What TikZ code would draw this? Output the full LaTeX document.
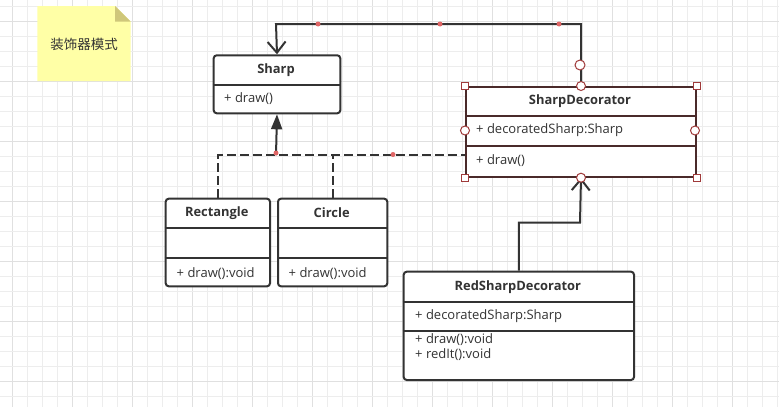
\documentclass[tikz,border=0pt]{standalone}
\usepackage{fontspec}
\setmainfont{Open Sans}
\newfontfamily\cjk{Noto Sans CJK SC}
\usetikzlibrary{arrows.meta}
\definecolor{ln}{HTML}{333333}
\definecolor{gridminor}{HTML}{EDEDED}
\definecolor{gridmajor}{HTML}{E0E0E0}
\definecolor{selbox}{HTML}{4A2A2A}
\definecolor{handle}{HTML}{A03A3A}
\definecolor{reddot}{HTML}{E06666}
\definecolor{notefill}{HTML}{FFFFA6}
\definecolor{notefold}{HTML}{CFC77A}
\tikzset{
  cls/.style={draw=ln, line width=2pt, rounded corners=3pt, fill=white, anchor=north west, inner sep=0pt},
  selcls/.style={draw=selbox, line width=2pt, fill=white, anchor=north west, inner sep=0pt},
  divider/.style={draw=ln, line width=2pt},
  seldivider/.style={draw=selbox, line width=2pt},
  titletxt/.style={font=\fontsize{12.9}{15}\selectfont\bfseries, text=ln, inner sep=0pt},
  memtxt/.style={font=\fontsize{13}{15}\selectfont, text=ln, inner sep=0pt, anchor=west, align=left},
  conn/.style={draw=ln, line width=2pt},
  dashconn/.style={draw=ln, line width=2pt, dash pattern=on 9pt off 4pt},
  vtip/.style={-{Straight Barb[length=11pt, width=18pt, line width=2pt]}},
  ttip/.style={-{Triangle[length=15pt, width=11pt]}},
  hcirc/.style={circle, draw=handle, line width=1pt, fill=white, minimum size=9pt, inner sep=0pt},
  hsq/.style={rectangle, draw=handle, line width=1pt, fill=white, minimum size=7pt, inner sep=0pt},
  rdot/.style={circle, fill=reddot, minimum size=5pt, inner sep=0pt},
}
\begin{document}
\begin{tikzpicture}[x=1pt, y=-1pt]
\useasboundingbox (0,0) rectangle (779,407);
\fill[white] (0,0) rectangle (779,407);
% grid
\foreach \k in {0,...,51} {
  \pgfmathtruncatemacro{\m}{mod(\k,4)}
  \ifnum\m=0
    \draw[gridmajor, line width=1pt] ({12.5+15*\k},0) -- ({12.5+15*\k},407);
  \else
    \draw[gridminor, line width=1pt] ({12.5+15*\k},0) -- ({12.5+15*\k},407);
  \fi
}
\foreach \k in {0,...,27} {
  \pgfmathtruncatemacro{\m}{mod(\k,4)}
  \ifnum\m=1
    \draw[gridmajor, line width=1pt] (0,{6+15*\k}) -- (779,{6+15*\k});
  \else
    \draw[gridminor, line width=1pt] (0,{6+15*\k}) -- (779,{6+15*\k});
  \fi
}
% note
\fill[notefill] (37.3,6) -- (115,6) -- (130.7,21.7) -- (130.7,81) -- (37.3,81) -- cycle;
\fill[notefold] (115,6) -- (130.7,21.7) -- (115,21.7) -- cycle;
\node[font=\cjk\fontsize{13.5}{15}\selectfont, text=ln, inner sep=0pt] (notetxt) at (84.2,44) {装饰器模式};

% Sharp
\node[cls, minimum width=126.6pt, minimum height=58pt] (sharp) at (212.7,54.3) {};
\node[titletxt] (sharpT) at (276,70) {Sharp};
\draw[divider] (sharp.west |- 0,85) -- (sharp.east |- 0,85);
\node[memtxt] (sharpM) at (224,99) {+ draw()};

% SharpDecorator
\node[selcls, minimum width=230pt, minimum height=89.7pt] (sd) at (465,86) {};
\node[titletxt] (sdT) at (580,101) {SharpDecorator};
\draw[seldivider] (sd.west |- 0,116) -- (sd.east |- 0,116);
\draw[seldivider] (sd.west |- 0,146) -- (sd.east |- 0,146);
\node[memtxt] (sdA) at (476,130.5) {+ decoratedSharp:Sharp};
\node[memtxt] (sdM) at (476,161) {+ draw()};

% Rectangle
\node[cls, minimum width=104.3pt, minimum height=87.6pt] (rect) at (164.7,197.7) {};
\node[titletxt] (rectT) at (216.8,213) {Rectangle};
\draw[divider] (rect.west |- 0,228.3) -- (rect.east |- 0,228.3);
\draw[divider] (rect.west |- 0,257.7) -- (rect.east |- 0,257.7);
\node[memtxt] (rectM) at (176.5,273.5) {+ draw():void};

% Circle
\node[cls, minimum width=109.3pt, minimum height=87.6pt] (circ) at (277,197.7) {};
\node[titletxt] (circT) at (331.7,213) {Circle};
\draw[divider] (circ.west |- 0,228.3) -- (circ.east |- 0,228.3);
\draw[divider] (circ.west |- 0,257.7) -- (circ.east |- 0,257.7);
\node[memtxt] (circM) at (288.5,273.5) {+ draw():void};

% RedSharpDecorator
\node[cls, minimum width=230.3pt, minimum height=108.3pt] (rsd) at (402.7,270.7) {};
\node[titletxt] (rsdT) at (517.85,287) {RedSharpDecorator};
\draw[divider] (rsd.west |- 0,301.7) -- (rsd.east |- 0,301.7);
\draw[divider] (rsd.west |- 0,330.7) -- (rsd.east |- 0,330.7);
\node[memtxt] (rsdA) at (415,316.5) {+ decoratedSharp:Sharp};
\node[memtxt] (rsdM1) at (415,339.5) {+ draw():void};
\node[memtxt] (rsdM2) at (415,355) {+ redIt():void};

% connectors
\coordinate (top) at (276,24);
\coordinate (j) at (276,155);
\coordinate (sdj) at (465,155);
\coordinate (k) at (580,222.7);
\draw[conn, vtip] (sd.north) |- (top) -- (sharp.north);
\draw[dashconn] (rect.north) |- (sdj);
\draw[dashconn] (circ.north) -- (circ.north |- j);
\draw[conn, ttip] (j) -- (sharp.south);
\draw[conn, vtip] (rsd.north) |- (k) -- (sd.south);

% handles
\node[hsq] (h1) at (sd.north west) {};
\node[hsq] (h2) at (sd.north east) {};
\node[hsq] (h3) at (sd.south west) {};
\node[hsq] (h4) at (sd.south east) {};
\node[hcirc] (h5) at (sd.north) {};
\node[hcirc] (h6) at (sd.south) {};
\node[hcirc] (h7) at (465,130.5) {};
\node[hcirc] (h8) at (695,130.5) {};
\node[hcirc, minimum size=10pt] (h9) at (580,65) {};
\node[rdot] (d1) at (318,24) {};
\node[rdot] (d2) at (440,24) {};
\node[rdot] (d3) at (559,24) {};
\node[rdot] (d4) at (276,153) {};
\node[rdot] (d5) at (393,154.5) {};
\end{tikzpicture}
\end{document}
